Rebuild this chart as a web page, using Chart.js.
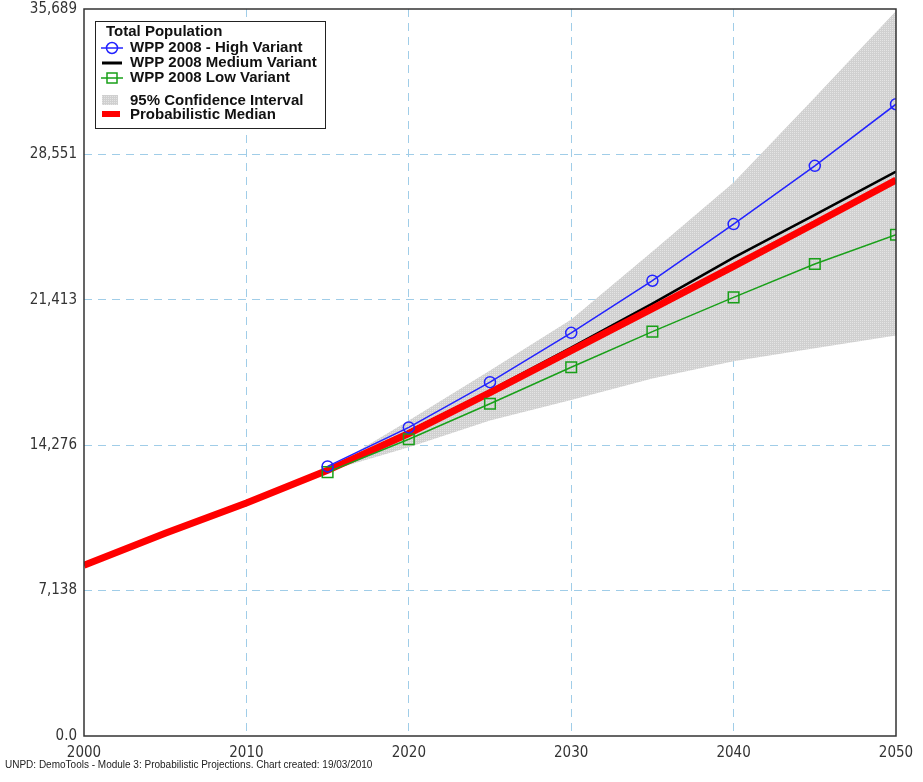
<!DOCTYPE html>
<html>
<head>
<meta charset="utf-8">
<script src="https://cdn.jsdelivr.net/npm/chart.js@4.4.0/dist/chart.umd.min.js"></script>
<style>
  body { margin: 0; background: #fff; }
  canvas { display: block; }
</style>
</head>
<body>
<canvas id="popChart" width="923" height="782"></canvas>
<script>
// projection years and series (thousands)
const years = [2000, 2005, 2010, 2015, 2020, 2025, 2030, 2035, 2040, 2045, 2050];
const probMedian = [8380, 9950, 11440, 13040, 14850, 16860, 18920, 20980, 23050, 25160, 27290];
const mediumVariant = [null, null, null, 13080, 14950, 16950, 19070, 21230, 23480, 25580, 27710];
const highVariant = [null, null, null, 13235, 15150, 17370, 19790, 22350, 25130, 27990, 31015];
const lowVariant = [null, null, null, 12955, 14570, 16310, 18100, 19850, 21535, 23170, 24610];
const ciUpper = [null, null, null, 13100, 15490, 17940, 20450, 23780, 27170, 31340, 35590];
const ciLower = [null, null, null, 13000, 14180, 15490, 16500, 17550, 18400, 19030, 19660];

const yTicks = [0, 7138, 14276, 21413, 28551, 35689];
const yTickLabels = ['0.0', '7,138', '14,276', '21,413', '28,551', '35,689'];
const xTicks = [2000, 2010, 2020, 2030, 2040, 2050];

const footerText = 'UNPD: DemoTools - Module 3: Probabilistic Projections. Chart created: 19/03/2010';

function points(arr) {
    return years.map((x, i) => ({ x: x, y: arr[i] })).filter(p => p.y != null);
}

// stippled grey fill like the original
function makePattern() {
    const c = document.createElement('canvas');
    c.width = 2; c.height = 2;
    const g = c.getContext('2d');
    g.fillStyle = '#d0d0d0';
    g.fillRect(0, 0, 2, 2);
    g.fillStyle = '#e4e4e4';
    g.fillRect(0, 0, 1, 1);
    return g.createPattern(c, 'repeat');
}
const ciPattern = makePattern();

const BLUE = 'rgb(35, 35, 255)';
const GREEN = 'rgb(25, 160, 25)';
const RED = 'rgb(255, 0, 0)';
const GRID = 'rgb(160, 205, 232)';
const LABEL_FONT = '"Liberation Sans Narrow", "Arial Narrow", "DejaVu Sans Condensed", sans-serif';

const frameAndLegend = {
    id: 'frameAndLegend',
    afterDraw(chart) {
        const ctx = chart.ctx;
        const a = chart.chartArea;
        ctx.save();
        // plot frame
        ctx.strokeStyle = '#333';
        ctx.lineWidth = 1.5;
        ctx.strokeRect(a.left, a.top, a.right - a.left, a.bottom - a.top);

        // legend box
        const bx = 95, by = 21, bw = 230, bh = 107;
        ctx.fillStyle = '#fff';
        ctx.fillRect(bx, by, bw, bh);
        ctx.strokeStyle = '#222';
        ctx.lineWidth = 1;
        ctx.strokeRect(bx + 0.5, by + 0.5, bw, bh);

        ctx.fillStyle = '#111';
        ctx.textBaseline = 'middle';
        ctx.textAlign = 'left';
        ctx.font = 'bold 15px "Liberation Sans", Arial, sans-serif';
        ctx.fillText('Total Population', 106, 32);

        const items = [
            { text: 'WPP 2008 - High Variant', y: 48 },
            { text: 'WPP 2008 Medium Variant', y: 63 },
            { text: 'WPP 2008 Low Variant', y: 78 },
            { text: '95% Confidence Interval', y: 101 },
            { text: 'Probabilistic Median', y: 115 }
        ];
        items.forEach(it => ctx.fillText(it.text, 130, it.y));

        // icons
        ctx.lineWidth = 1.5;
        ctx.strokeStyle = BLUE;
        ctx.beginPath(); ctx.moveTo(101, 48); ctx.lineTo(123, 48); ctx.stroke();
        ctx.beginPath(); ctx.arc(112, 48, 5.5, 0, Math.PI * 2); ctx.stroke();

        ctx.strokeStyle = '#000';
        ctx.lineWidth = 3;
        ctx.beginPath(); ctx.moveTo(102, 63); ctx.lineTo(122, 63); ctx.stroke();

        ctx.strokeStyle = GREEN;
        ctx.lineWidth = 1.5;
        ctx.beginPath(); ctx.moveTo(101, 78); ctx.lineTo(123, 78); ctx.stroke();
        ctx.strokeRect(107, 73, 10, 10);

        ctx.fillStyle = ciPattern;
        ctx.fillRect(102, 95, 16, 10);

        ctx.fillStyle = RED;
        ctx.fillRect(102, 111, 18, 6);

        // footer note
        ctx.fillStyle = '#222';
        ctx.font = '10px "Liberation Sans", Arial, sans-serif';
        ctx.textBaseline = 'middle';
        ctx.fillText(footerText, 5, 765);
        ctx.restore();
    }
};

new Chart(document.getElementById('popChart').getContext('2d'), {
    type: 'line',
    data: {
        datasets: [
            {
                label: 'WPP 2008 - High Variant',
                data: points(highVariant),
                borderColor: BLUE, borderWidth: 1.5,
                pointStyle: 'circle', pointRadius: 5.5, pointBorderWidth: 1.5,
                pointBorderColor: BLUE, pointBackgroundColor: 'rgba(0,0,0,0)',
                fill: false, order: 1
            },
            {
                label: 'WPP 2008 Low Variant',
                data: points(lowVariant),
                borderColor: GREEN, borderWidth: 1.5,
                pointStyle: 'rect', pointRadius: 7.5, pointBorderWidth: 1.5,
                pointBorderColor: GREEN, pointBackgroundColor: 'rgba(0,0,0,0)',
                fill: false, order: 2
            },
            {
                label: 'Probabilistic Median',
                data: points(probMedian),
                borderColor: RED, borderWidth: 7, pointRadius: 0,
                fill: false, order: 3
            },
            {
                label: 'WPP 2008 Medium Variant',
                data: points(mediumVariant),
                borderColor: '#000', borderWidth: 2.5, pointRadius: 0,
                fill: false, order: 4
            },
            {
                label: '95% Confidence Interval',
                data: points(ciUpper),
                borderWidth: 0, borderColor: 'rgba(0,0,0,0)', pointRadius: 0,
                backgroundColor: ciPattern,
                fill: '+1', order: 5
            },
            {
                label: 'ci lower',
                data: points(ciLower),
                borderWidth: 0, borderColor: 'rgba(0,0,0,0)', pointRadius: 0,
                fill: false, order: 6
            }
        ]
    },
    options: {
        responsive: false,
        animation: false,
        layout: { padding: { top: 8, right: 27, bottom: 10, left: 0 } },
        plugins: {
            legend: { display: false },
            tooltip: { enabled: false },
            title: { display: false }
        },
        elements: { line: { tension: 0, borderCapStyle: 'butt' } },
        scales: {
            x: {
                type: 'linear',
                min: 2000, max: 2050,
                afterBuildTicks: s => { s.ticks = xTicks.map(v => ({ value: v })); },
                afterFit: s => { s.height = 36; s.paddingLeft = 0; s.paddingRight = 0; },
                border: { display: false, dash: [8, 6] },
                grid: {
                    drawTicks: false,
                    color: c => (c.tick && (c.tick.value === 2000 || c.tick.value === 2050)) ? 'rgba(0,0,0,0)' : GRID,
                    lineWidth: 1
                },
                ticks: {
                    padding: 8,
                    color: '#333',
                    font: { family: LABEL_FONT, size: 15 },
                    callback: v => String(v)
                }
            },
            y: {
                min: 0, max: 35689,
                afterBuildTicks: s => { s.ticks = yTicks.map(v => ({ value: v })); },
                afterFit: s => { s.width = 84; s.paddingTop = 0; s.paddingBottom = 0; },
                border: { display: false, dash: [8, 6] },
                grid: {
                    drawTicks: false,
                    color: c => (c.index === 0 || c.index === yTicks.length - 1) ? 'rgba(0,0,0,0)' : GRID,
                    lineWidth: 1
                },
                ticks: {
                    padding: 7,
                    color: '#333',
                    font: { family: LABEL_FONT, size: 15 },
                    callback: (v, i) => yTickLabels[i]
                }
            }
        }
    },
    plugins: [frameAndLegend]
});
</script>
</body>
</html>
